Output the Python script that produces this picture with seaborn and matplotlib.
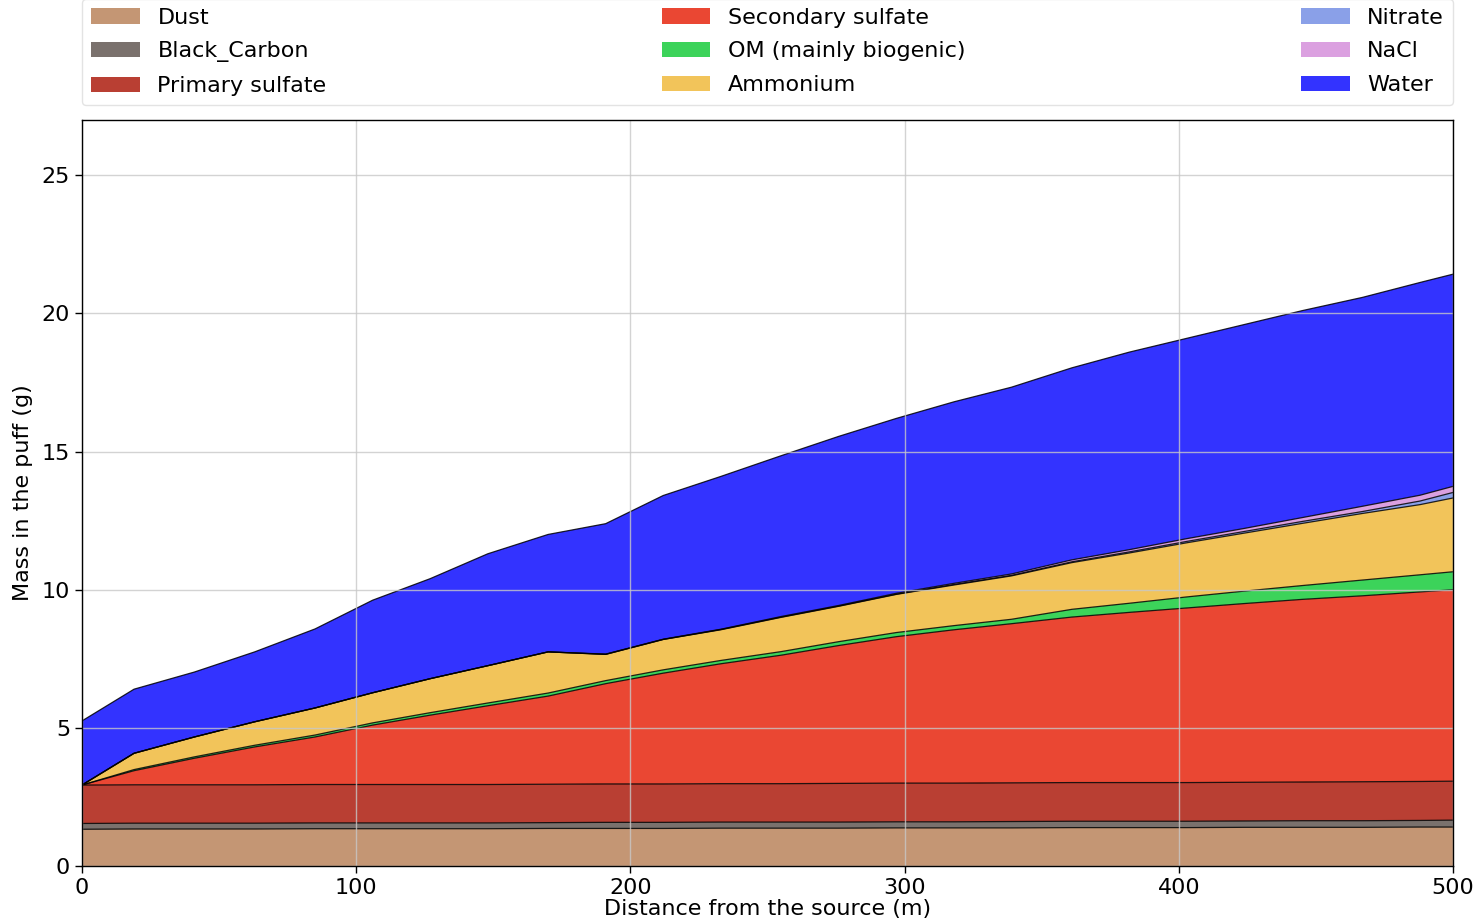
import numpy as np
import pandas as pd
import matplotlib
matplotlib.use("Agg")
import matplotlib.pyplot as plt
import seaborn as sns

# distance from the source (m)
distance = [0, 19, 41, 63, 85, 106, 127, 148, 170, 191, 212, 233, 255,
            276, 297, 318, 339, 361, 382, 403, 424, 445, 467, 488, 500]

# mass of each species in the puff (g)
dust = [1.33, 1.34, 1.34, 1.34, 1.35, 1.35, 1.35, 1.35, 1.36, 1.36, 1.36, 1.37, 1.37,
        1.37, 1.38, 1.38, 1.38, 1.39, 1.39, 1.39, 1.40, 1.40, 1.40, 1.41, 1.41]
black_carbon = [0.21, 0.21, 0.21, 0.21, 0.21, 0.21, 0.21, 0.21, 0.21, 0.22, 0.22, 0.22, 0.22,
                0.22, 0.22, 0.22, 0.23, 0.23, 0.23, 0.23, 0.23, 0.24, 0.24, 0.24, 0.25]
primary_sulfate = [1.39, 1.39, 1.39, 1.39, 1.39, 1.39, 1.39, 1.39, 1.39, 1.39, 1.39, 1.39, 1.39,
                   1.40, 1.40, 1.40, 1.40, 1.40, 1.40, 1.40, 1.40, 1.40, 1.41, 1.41, 1.41]
secondary_sulfate = [0.0, 0.51, 0.96, 1.37, 1.72, 2.15, 2.51, 2.85, 3.19, 3.63, 4.01, 4.34, 4.65,
                     4.99, 5.30, 5.55, 5.76, 5.99, 6.16, 6.32, 6.47, 6.61, 6.73, 6.86, 6.93]
om = [0.0, 0.04, 0.05, 0.06, 0.07, 0.08, 0.09, 0.10, 0.11, 0.11, 0.12, 0.12, 0.13,
      0.14, 0.15, 0.15, 0.16, 0.28, 0.33, 0.40, 0.45, 0.50, 0.57, 0.62, 0.65]
ammonium = [0.0, 0.59, 0.72, 0.85, 0.98, 1.09, 1.23, 1.35, 1.49, 0.95, 1.10, 1.11, 1.24,
            1.28, 1.38, 1.47, 1.57, 1.69, 1.82, 1.96, 2.10, 2.25, 2.41, 2.54, 2.67]
nitrate = [0.0, 0.0, 0.0, 0.0, 0.0, 0.0, 0.0, 0.0, 0.0, 0.0, 0.0, 0.01, 0.01,
           0.01, 0.01, 0.02, 0.02, 0.03, 0.04, 0.05, 0.06, 0.07, 0.07, 0.13, 0.20]
nacl = [0.0, 0.0, 0.0, 0.0, 0.0, 0.0, 0.0, 0.0, 0.0, 0.01, 0.01, 0.01, 0.02,
        0.02, 0.03, 0.04, 0.05, 0.07, 0.08, 0.10, 0.11, 0.14, 0.19, 0.21, 0.22]
water = [2.32, 2.32, 2.35, 2.53, 2.86, 3.35, 3.62, 4.05, 4.25, 4.72, 5.20, 5.53, 5.82,
         6.12, 6.33, 6.57, 6.76, 6.95, 7.15, 7.25, 7.38, 7.49, 7.56, 7.70, 7.68]

species = ['Dust', 'Black_Carbon', 'Primary sulfate', 'Secondary sulfate',
           'OM (mainly biogenic)', 'Ammonium', 'Nitrate', 'NaCl', 'Water']
colors = ['#c49674', '#7a716d', '#b93f33', '#ea4733', '#3cd35a',
          '#f2c45a', '#8aa0e8', '#dba0e0', '#3333ff']

df = pd.DataFrame({'distance': distance, 'Dust': dust, 'Black_Carbon': black_carbon,
                   'Primary sulfate': primary_sulfate, 'Secondary sulfate': secondary_sulfate,
                   'OM (mainly biogenic)': om, 'Ammonium': ammonium, 'Nitrate': nitrate,
                   'NaCl': nacl, 'Water': water})

sns.set_style("ticks")
plt.rcParams['font.family'] = ['DejaVu Sans']
plt.rcParams['text.color'] = 'black'
plt.rcParams['axes.labelcolor'] = 'black'
plt.rcParams['xtick.color'] = 'black'
plt.rcParams['ytick.color'] = 'black'

fig, ax = plt.subplots(figsize=(14.79, 9.21), dpi=100)
fig.subplots_adjust(left=0.0554, right=0.9824, top=0.8697, bottom=0.0597)

polys = ax.stackplot(df['distance'], [df[s] for s in species], labels=species,
                     colors=colors, zorder=1)

# black outline on top of every layer
tops = df[species].cumsum(axis=1)
for s in species:
    sns.lineplot(x=df['distance'], y=tops[s], ax=ax, color='black', linewidth=0.9,
                 alpha=0.85, zorder=2, legend=False)

ax.set_axisbelow(False)
ax.grid(True, color='#c8c8c8', linewidth=1.0, alpha=0.8, zorder=3)
ax.set_xlim(0, 500)
ax.set_ylim(0, 27)
ax.set_xticks([0, 100, 200, 300, 400, 500])
ax.set_yticks([0, 5, 10, 15, 20, 25])
ax.tick_params(labelsize=16, length=5, width=1, color='black', labelcolor='black')
for sp in ax.spines.values():
    sp.set_color('black')
    sp.set_linewidth(1)
    sp.set_zorder(5)

ax.set_xlabel('Distance from the source (m)', fontsize=16, labelpad=1)
ax.set_ylabel('Mass in the puff (g)', fontsize=16, labelpad=6)

handles = list(polys)
for h in handles:
    h.set_edgecolor('none')
leg = ax.legend(handles, species, loc='lower left', bbox_to_anchor=(0, 1.02, 1, 0.2),
                mode='expand', ncol=3, fontsize=16, frameon=True, borderaxespad=0,
                handlelength=2.2, handleheight=0.7, labelspacing=0.62)
leg.get_frame().set_edgecolor('#dddddd')

fig.savefig('out.png', dpi=100)
